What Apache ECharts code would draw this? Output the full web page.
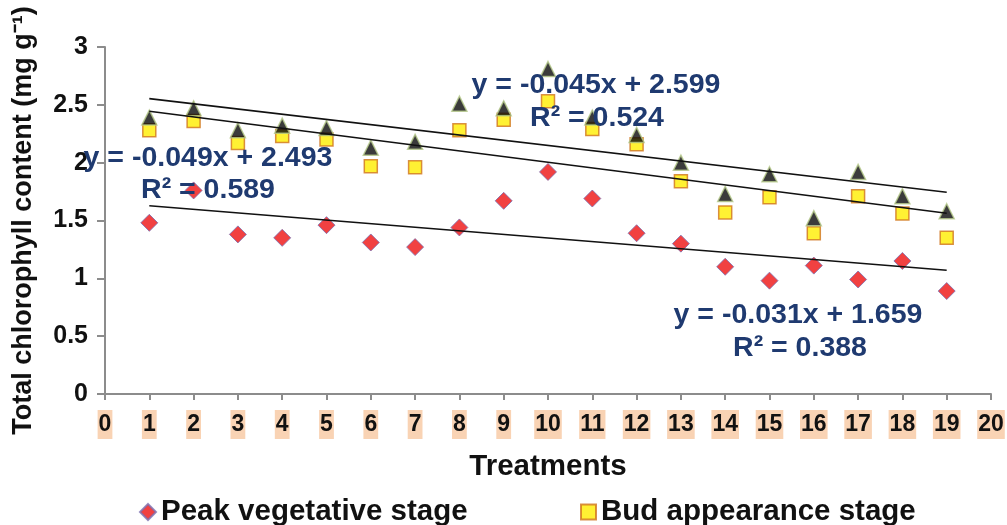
<!DOCTYPE html>
<html>
<head>
<meta charset="utf-8">
<script src="https://cdn.jsdelivr.net/npm/echarts@6/dist/echarts.min.js"></script>
<style>html,body{margin:0;padding:0;background:#fff}#c{width:1007px;height:525px}</style>
</head>
<body>
<div id="c"></div>
<script>
const treatments = [1,2,3,4,5,6,7,8,9,10,11,12,13,14,15,16,17,18,19];
const peakVegetative = [1.48,1.76,1.38,1.35,1.46,1.31,1.27,1.44,1.67,1.92,1.69,1.39,1.30,1.10,0.98,1.11,0.99,1.15,0.89];
const budAppearance = [2.28,2.36,2.17,2.23,2.20,1.97,1.96,2.28,2.37,2.53,2.29,2.16,1.84,1.57,1.70,1.39,1.71,1.56,1.35];
const thirdStage = [2.39,2.47,2.28,2.32,2.30,2.13,2.18,2.51,2.47,2.81,2.39,2.24,2.00,1.73,1.90,1.52,1.92,1.71,1.58];
const seriesNames = ['Peak vegetative stage','Bud appearance stage','Flowering stage'];
const trendSlopes = [-0.031,-0.049,-0.045];
const trendIntercepts = [1.659,2.493,2.599];
const trendR2 = ['0.388','0.589','0.524'];
const xTicks = {min:0,max:20,interval:1};
const yTicks = {min:0,max:3,interval:0.5};

const FONT = '"Liberation Sans", Arial, sans-serif';
const EQ_COLOR = '#1f3a70';

function pts(vals){ return treatments.map((t,i)=>[t, vals[i]]); }
function trend(k){
  const x0 = treatments[0], x1 = treatments[treatments.length-1];
  return [[x0, trendSlopes[k]*x0+trendIntercepts[k]],[x1, trendSlopes[k]*x1+trendIntercepts[k]]];
}
function eqText(k){
  const s = trendSlopes[k];
  return 'y = ' + (s<0?'-':'') + Math.abs(s).toFixed(3) + 'x + ' + trendIntercepts[k].toFixed(3);
}

const chart = echarts.init(document.getElementById('c'), null, {renderer:'canvas'});
const eqPos = [[798,315,800,348],[208,158,208,190],[596,85,597,118]];
const graphics = [];
for (let k=0;k<3;k++){
  const p = eqPos[k];
  graphics.push({type:'text', x:p[0], y:p[1], z:100, style:{text:eqText(k), fill:EQ_COLOR, font:'bold 28.5px '+FONT, align:'center', verticalAlign:'middle'}});
  graphics.push({type:'text', x:p[2], y:p[3], z:100, style:{text:'R² = '+trendR2[k], fill:EQ_COLOR, font:'bold 28.5px '+FONT, align:'center', verticalAlign:'middle'}});
}

chart.setOption({
  animation:false,
  backgroundColor:'#fff',
  textStyle:{fontFamily:FONT},
  grid:{left:105,right:16,top:47,bottom:131,containLabel:false,outerBoundsMode:'none'},
  legend:[
    {left:134, top:492, itemWidth:16, itemHeight:16, itemGap:10, data:[seriesNames[0]],
     textStyle:{fontSize:29.5,fontWeight:'bold',color:'#111',fontFamily:FONT}},
    {left:575, top:492, itemWidth:15, itemHeight:15, data:[seriesNames[1]],
     textStyle:{fontSize:29.5,fontWeight:'bold',color:'#111',fontFamily:FONT}}
  ],
  xAxis:{
    type:'value', min:xTicks.min, max:xTicks.max, interval:xTicks.interval,
    name:'Treatments', nameLocation:'middle', nameGap:58,
    nameTextStyle:{fontSize:29.5,fontWeight:'bold',color:'#111',fontFamily:FONT},
    axisLine:{lineStyle:{color:'#8c8c8c',width:2}},
    axisTick:{show:true,length:6,lineStyle:{color:'#8c8c8c',width:2}},
    splitLine:{show:false},
    axisLabel:{fontSize:23,fontWeight:'bold',color:'#111',fontFamily:FONT,margin:16,
      backgroundColor:'#f9d3b4',padding:[3,1,3,1]}
  },
  yAxis:{
    type:'value', min:yTicks.min, max:yTicks.max, interval:yTicks.interval,
    name:'Total chlorophyll content (mg g⁻¹)', nameLocation:'middle', nameGap:68,
    nameTextStyle:{fontSize:27,fontWeight:'bold',color:'#111',fontFamily:FONT},
    axisLine:{show:true,lineStyle:{color:'#8c8c8c',width:2}},
    axisTick:{show:true,length:8,lineStyle:{color:'#8c8c8c',width:2}},
    splitLine:{show:false},
    axisLabel:{fontSize:25,fontWeight:'bold',color:'#111',fontFamily:FONT,margin:17}
  },
  series:[
    {name:seriesNames[0], type:'scatter', data:pts(peakVegetative), symbol:'diamond', symbolSize:17,
     itemStyle:{color:'#ee1111',borderColor:'#7b6fb0',borderWidth:1}},
    {name:seriesNames[1], type:'scatter', data:pts(budAppearance), symbol:'rect', symbolSize:13,
     itemStyle:{color:'#ffee00',borderColor:'#d0741e',borderWidth:1.5}},
    {name:seriesNames[2], type:'scatter', data:pts(thirdStage), symbol:'triangle', symbolSize:[15,15],
     itemStyle:{color:'#0a0a0a',borderColor:'#b5c98a',borderWidth:1.5}},
    {type:'line', data:trend(0), symbol:'none', silent:true, lineStyle:{color:'#111',width:1.6}, z:5},
    {type:'line', data:trend(1), symbol:'none', silent:true, lineStyle:{color:'#111',width:1.6}, z:5},
    {type:'line', data:trend(2), symbol:'none', silent:true, lineStyle:{color:'#111',width:1.6}, z:5}
  ],
  graphic:graphics
});
</script>
</body>
</html>
